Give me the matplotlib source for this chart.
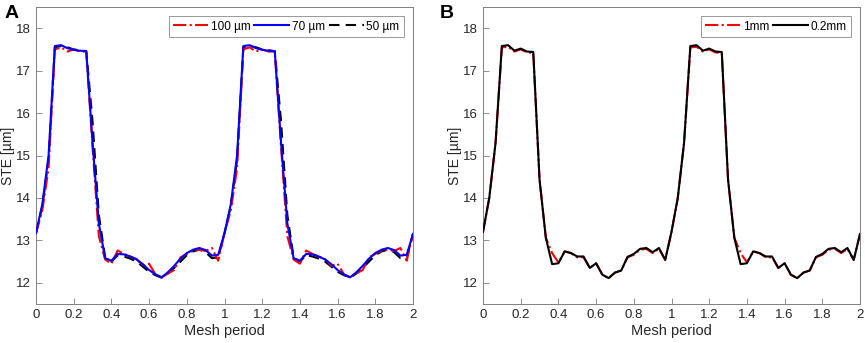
import numpy as np
import matplotlib
matplotlib.use("Agg")
import matplotlib.pyplot as plt

plt.rcParams['font.family'] = ['Liberation Sans', 'DejaVu Sans']

# ---- data ----
x = [k / 30 for k in range(61)]

a_100 = [13.17, 13.70, 14.70, 17.50, 17.55, 17.45, 17.50, 17.45, 17.45, 15.20,
         13.10, 12.55, 12.45, 12.76, 12.68, 12.62, 12.56, 12.40, 12.45, 12.20,
         12.12, 12.22, 12.30, 12.60, 12.68, 12.76, 12.78, 12.75, 12.82, 12.52,
         13.17, 13.70, 14.70, 17.50, 17.55, 17.45, 17.50, 17.45, 17.45, 15.20,
         13.10, 12.55, 12.45, 12.76, 12.68, 12.62, 12.56, 12.40, 12.45, 12.20,
         12.12, 12.22, 12.30, 12.60, 12.68, 12.76, 12.78, 12.75, 12.82, 12.52,
         13.15]
a_70 = [13.17, 13.85, 15.00, 17.58, 17.60, 17.53, 17.49, 17.47, 17.46, 15.30,
        13.40, 12.58, 12.52, 12.68, 12.67, 12.62, 12.55, 12.44, 12.30, 12.20,
        12.13, 12.25, 12.40, 12.57, 12.70, 12.78, 12.82, 12.77, 12.64, 12.66,
        13.17, 13.85, 15.00, 17.58, 17.60, 17.53, 17.49, 17.47, 17.46, 15.30,
        13.40, 12.58, 12.52, 12.68, 12.67, 12.62, 12.55, 12.44, 12.30, 12.20,
        12.13, 12.25, 12.40, 12.57, 12.70, 12.78, 12.82, 12.77, 12.64, 12.66,
        13.15]
a_50 = [13.17, 13.80, 14.90, 17.55, 17.58, 17.55, 17.50, 17.48, 17.46, 15.80,
        13.60, 12.60, 12.50, 12.65, 12.62, 12.57, 12.50, 12.38, 12.26, 12.18,
        12.12, 12.22, 12.35, 12.50, 12.65, 12.74, 12.78, 12.72, 12.58, 12.60,
        13.17, 13.80, 14.90, 17.55, 17.58, 17.55, 17.50, 17.48, 17.46, 15.80,
        13.60, 12.60, 12.50, 12.65, 12.62, 12.57, 12.50, 12.38, 12.26, 12.18,
        12.12, 12.22, 12.35, 12.50, 12.65, 12.74, 12.78, 12.72, 12.58, 12.60,
        13.15]

b_1mm = [13.20, 14.00, 15.30, 17.55, 17.56, 17.45, 17.50, 17.43, 17.42, 14.43,
         13.06, 12.70, 12.48, 12.74, 12.70, 12.60, 12.60, 12.35, 12.46, 12.19,
         12.11, 12.24, 12.29, 12.60, 12.66, 12.78, 12.80, 12.70, 12.80, 12.54,
         13.20, 14.00, 15.30, 17.55, 17.56, 17.45, 17.50, 17.43, 17.42, 14.43,
         13.06, 12.70, 12.48, 12.74, 12.70, 12.60, 12.60, 12.35, 12.46, 12.19,
         12.11, 12.24, 12.29, 12.60, 12.66, 12.78, 12.80, 12.70, 12.80, 12.54,
         13.15]
b_02mm = [13.20, 14.00, 15.30, 17.58, 17.60, 17.47, 17.52, 17.45, 17.44, 14.43,
          13.06, 12.44, 12.46, 12.74, 12.70, 12.62, 12.62, 12.35, 12.46, 12.19,
          12.11, 12.24, 12.29, 12.61, 12.68, 12.80, 12.82, 12.72, 12.82, 12.54,
          13.20, 14.00, 15.30, 17.58, 17.60, 17.47, 17.52, 17.45, 17.44, 14.43,
          13.06, 12.44, 12.46, 12.74, 12.70, 12.62, 12.62, 12.35, 12.46, 12.19,
          12.11, 12.24, 12.29, 12.61, 12.68, 12.80, 12.82, 12.72, 12.82, 12.54,
          13.15]

xticks = [0, 0.2, 0.4, 0.6, 0.8, 1, 1.2, 1.4, 1.6, 1.8, 2]
xticklabels = ["0", "0.2", "0.4", "0.6", "0.8", "1", "1.2", "1.4", "1.6", "1.8", "2"]
yticks = [12, 13, 14, 15, 16, 17, 18]

fig = plt.figure(figsize=(8.65, 3.43), dpi=100)
axA = fig.add_axes([36/865, 1-304/343, (413-36)/865, (304-7)/343])
axB = fig.add_axes([483/865, 1-304/343, (860-483)/865, (304-7)/343])

axA.plot(x, a_100, color='red', linestyle='-.', lw=1.5, label='100 µm', zorder=3)
axA.plot(x, a_70, color='#0000ff', linestyle='-', lw=1.5, label='70 µm', zorder=4)
axA.plot(x, a_50, color='black', linestyle=(0, (5, 3)), lw=1.5, label='50 µm', zorder=2)

axB.plot(x, b_1mm, color='red', linestyle='-.', lw=1.5, label='1mm', zorder=2)
axB.plot(x, b_02mm, color='black', linestyle='-', lw=1.5, label='0.2mm', zorder=3)

for ax in (axA, axB):
    ax.set_xlim(0, 2)
    ax.set_ylim(11.5, 18.5)
    ax.set_xticks(xticks)
    ax.set_xticklabels(xticklabels)
    ax.set_yticks(yticks)
    ax.tick_params(direction='in', length=4, width=0.6, colors='#808080',
                   labelcolor='#262626', labelsize=9.5, top=False, right=False)
    for s in ax.spines.values():
        s.set_color('#808080')
        s.set_linewidth(0.7)
    ax.set_xlabel('Mesh period', fontsize=10.5, color='#262626', labelpad=2)
    ax.set_ylabel('STE [µm]', fontsize=10, color='#262626', labelpad=1)
    leg = ax.legend(loc='upper right', ncol=3, fontsize=8.5, handlelength=3.0,
                    columnspacing=0.3, handletextpad=0.2, frameon=True,
                    fancybox=False, borderpad=0.35, borderaxespad=0.8)
    leg.get_frame().set_edgecolor('#808080')
    leg.get_frame().set_linewidth(0.7)

fig.text(5/865, 1-13/343, 'A', fontsize=14, fontweight='bold', va='center', ha='left')
fig.text(440/865, 1-13/343, 'B', fontsize=14, fontweight='bold', va='center', ha='left')

fig.savefig('out.png', dpi=100)
